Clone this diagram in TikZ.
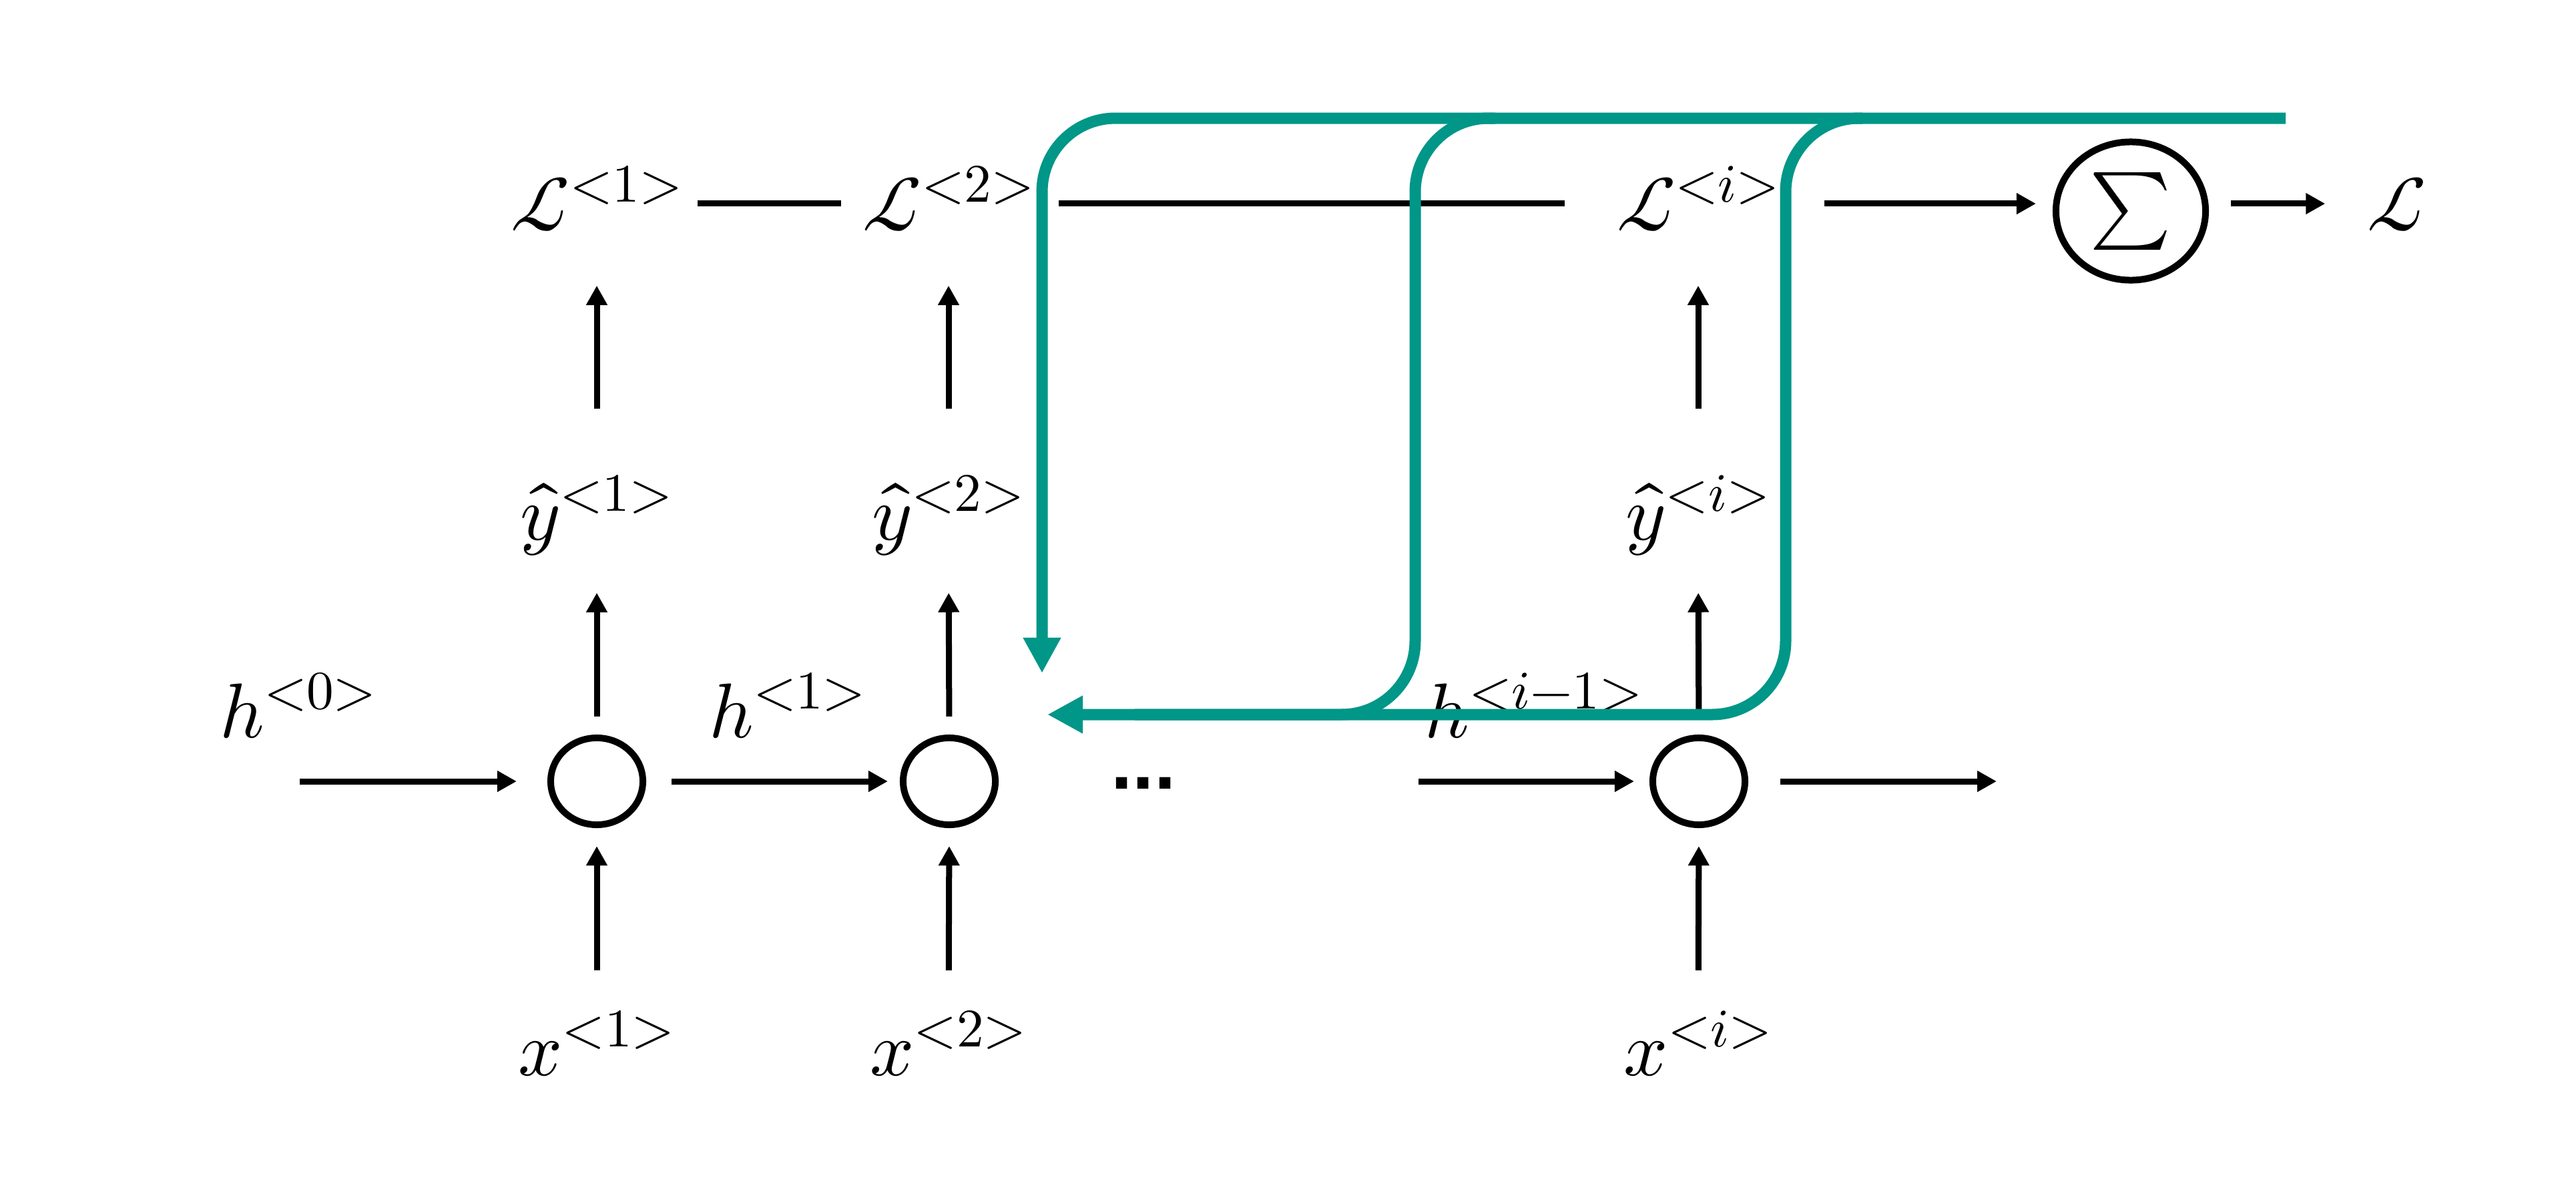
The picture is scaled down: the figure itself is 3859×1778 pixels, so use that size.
\documentclass[tikz,border=0pt]{standalone}
\usepackage{fontspec}
\usepackage{unicode-math}
\setmathfont{Latin Modern Math}
\newfontfamily\dotfont{Liberation Sans}
\usetikzlibrary{arrows.meta,shapes.geometric}
\definecolor{tealc}{RGB}{0,150,136}
\begin{document}
\begin{tikzpicture}[x=0.01cm,y=-0.01cm,
  font=\fontsize{33}{40}\selectfont,
  blk/.style={line width=0.09cm,black},
  arr/.style={blk,-{Triangle[length=0.29cm,width=0.30cm]}},
  tl/.style={line width=0.17cm,draw=tealc,rounded corners=1.1cm},
  tarr/.style={-{Triangle[length=0.53cm,width=0.53cm]}},
  cell/.style={draw,line width=0.1cm,ellipse,minimum width=1.38cm,minimum height=1.30cm,inner sep=0pt},
  lab/.style={inner sep=0pt,text width=3.0cm,align=center,anchor=base},
  lrow/.style={lab,text height=1.0cm,text depth=0.2cm},
  yrow/.style={lab,text height=0.9cm,text depth=0.3cm},
  xrow/.style={lab,text height=0.9cm,text depth=0.3cm},
  hlab/.style={inner sep=0pt,anchor=base},
]
\useasboundingbox (0,0) rectangle (3859,1778);

% loss row
\node[lrow] (L1) at (894,345) {$\mathscr{L}^{<1>}$};
\node[lrow] (L2) at (1421,345) {$\mathscr{L}^{<2>}$};
\node[lrow] (Li) at (2544,345) {$\mathscr{L}^{<i>}$};
\node[draw,ellipse,line width=0.1cm,minimum width=2.24cm,minimum height=2.07cm,inner sep=0pt] (sig) at (3192,316) {$\sum$};
\node[lrow,text width=1.0cm] (Lf) at (3590,345) {$\mathscr{L}$};

% prediction row
\node[yrow] (y1) at (894,808) {$\hat{y}^{<1>}$};
\node[yrow] (y2) at (1421,808) {$\hat{y}^{<2>}$};
\node[yrow] (yi) at (2544,808) {$\hat{y}^{<i>}$};

% cells
\node[cell] (c1) at (894,1170) {};
\node[cell] (c2) at (1422,1170) {};
\node[cell] (ci) at (2545,1170) {};
\node[anchor=base,inner sep=0pt] (dots) at (1713,1181) {\dotfont\bfseries ...};

% hidden state labels
\node[hlab] (h0) at (447,1104) {$h^{<0>}$};
\node[hlab] (h1) at (1180,1104) {$h^{<1>}$};
\node[hlab] (hi) at (2298,1104) {$h^{<i-1>}$};

% inputs
\node[xrow] (x1) at (894,1610) {$x^{<1>}$};
\node[xrow] (x2) at (1421,1610) {$x^{<2>}$};
\node[xrow] (xi) at (2544,1610) {$x^{<i>}$};

% vertical arrows
\foreach \k/\c in {x1/c1,x2/c2,xi/ci}
  \draw[arr,shorten <=0.66cm,shorten >=0.27cm] (\k.north) -- (\c.south);
\foreach \c/\y in {c1/y1,c2/y2,ci/yi}
  \draw[arr,shorten <=0.27cm,shorten >=0.49cm] (\c.north) -- (\y.south);
\foreach \y/\l in {y1/L1,y2/L2,yi/Li}
  \draw[arr,shorten <=1.05cm,shorten >=0.62cm] (\y.north) -- (\l.south);

% horizontal arrows
\coordinate (h0s) at (449,1170);
\coordinate (his) at (2125,1170);
\coordinate (hoe) at (2991,1170);
\draw[arr,shorten >=0.46cm] (h0s) -- (c1.west);
\draw[arr,shorten <=0.38cm,shorten >=0.18cm] (c1.east) -- (c2.west);
\draw[arr,shorten >=0.23cm] (his) -- (ci.west);
\draw[arr,shorten <=0.48cm] (ci.east) -- (hoe);

% loss connections
\draw[blk,shorten >=0.10cm] (L1.east) -- (L2.west);
\draw[blk,shorten <=0.14cm,shorten >=0.49cm] (L2.east) -- (Li.west);
\draw[arr,shorten <=0.38cm,shorten >=0.25cm] (Li.east) -- (Li.east -| sig.west);
\draw[arr,shorten <=0.33cm,shorten >=0.56cm] (sig.east |- Lf.west) -- (Lf.west);

% backpropagation paths
\coordinate (tR) at (3424,177);
\coordinate (tA) at (1561,177);
\coordinate (tAe) at (1561,1008);
\coordinate (tB0) at (2240,177);
\coordinate (tB1) at (2120,177);
\coordinate (tB2) at (2120,1070);
\coordinate (tBe) at (1569,1070);
\coordinate (tC0) at (2790,177);
\coordinate (tC1) at (2675,177);
\coordinate (tC2) at (2675,1070);
\coordinate (tCe) at (1700,1070);
\draw[tl] (tC0) -- (tC1) -- (tC2) -- (tCe);
\draw[tl,tarr] (tR) -- (tA) -- (tAe);
\draw[tl,tarr] (tB0) -- (tB1) -- (tB2) -- (tBe);
\end{tikzpicture}
\end{document}
